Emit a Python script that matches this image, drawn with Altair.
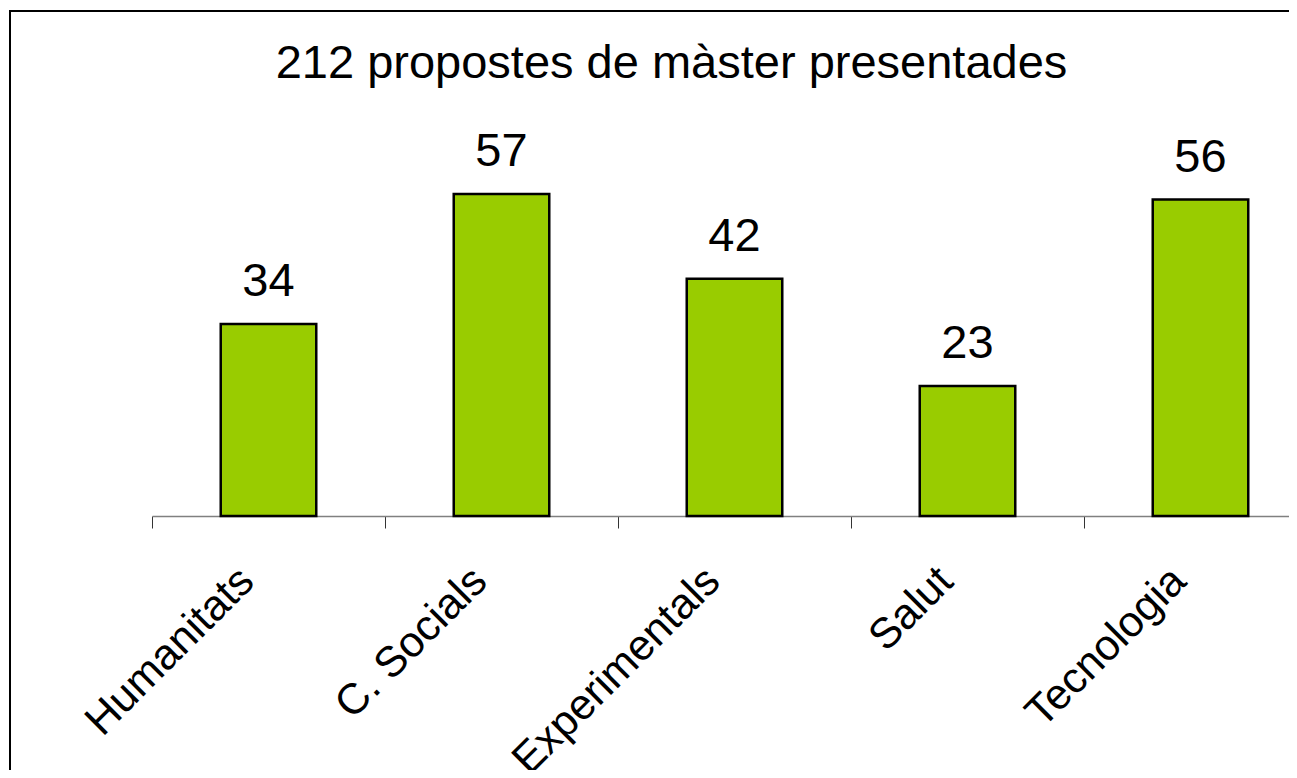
import altair as alt
import pandas as pd

categories = ["Humanitats", "C. Socials", "Experimentals", "Salut", "Tecnologia"]
values = [34, 57, 42, 23, 56]
title_text = "212 propostes de màster presentades"

df = pd.DataFrame({"cat": categories, "val": values})
FONT = "Liberation Sans"

x = alt.X("cat:N", sort=categories, title=None,
          scale=alt.Scale(paddingInner=0, paddingOuter=0, range=[0, 1165]),
          axis=alt.Axis(labelAngle=-45, labelFontSize=43, labelFont=FONT, labelColor="black",
                        labelAlign="right", labelBaseline="middle", labelPadding=46, labelOffset=-22,
                        tickBand="extent", tickSize=12, tickColor="#333333", tickWidth=1,
                        domainColor="#808080", domainWidth=1.5, labelLimit=0))
y = alt.Y("val:Q", scale=alt.Scale(domain=[0, 60]), axis=None)

bars = alt.Chart(df).mark_bar(color="#99CC00", stroke="black", strokeWidth=2.5,
                              width=alt.RelativeBandSize(0.41)).encode(x=x, y=y)
labels = alt.Chart(df).mark_text(font=FONT, fontSize=47, baseline="alphabetic", dy=-28, color="black").encode(
    x=x, y=y, text="val:Q")

border = alt.Chart(pd.DataFrame({"b": [0]})).mark_rect(fill=None, stroke="black", strokeWidth=2).encode(
    x=alt.value(-142), x2=alt.value(1400), y=alt.value(-166), y2=alt.value(800))

chart = alt.layer(border, bars, labels).properties(
    width=1137, height=339, background="white",
    title=alt.TitleParams(title_text, font=FONT, fontSize=47, fontWeight="normal", color="black",
                          anchor="middle", frame="group", baseline="alphabetic", offset=-115, dx=-49),
    autosize=alt.AutoSizeParams(type="none"),
    padding={"left": 144, "top": 169, "right": 0, "bottom": 254},
).configure_view(stroke=None)

chart.save("out.html", embed_options={"renderer": "svg", "actions": False})
